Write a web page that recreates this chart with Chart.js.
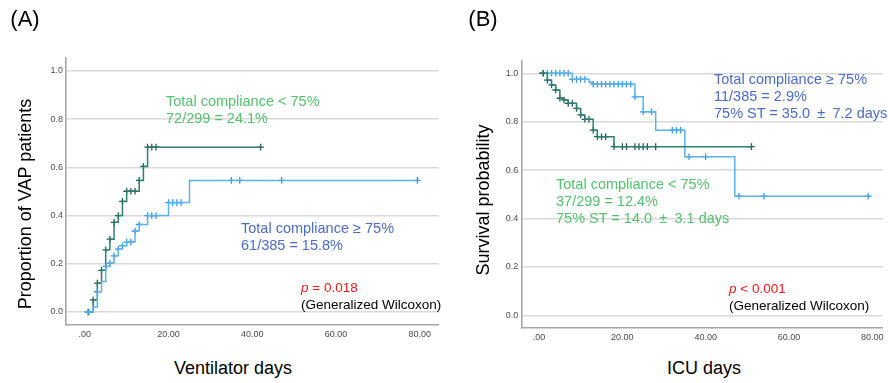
<!DOCTYPE html>
<html>
<head>
<meta charset="utf-8">
<script src="https://cdn.jsdelivr.net/npm/chart.js@4.4.0/dist/chart.umd.min.js"></script>
<style>
body { margin: 0; background: #fff; width: 888px; height: 383px; position: relative; overflow: hidden;
       font-family: "Liberation Sans", Arial, sans-serif; }
.panel { position: absolute; top: 0; }
.t { position: absolute; white-space: nowrap; color: #000; }
.big { font-size: 18px; transform: translate(-50%, -50%); }
.rot { font-size: 18px; transform: translate(-50%, -50%) rotate(-90deg); }
.lbl { font-size: 22px; transform: translate(-50%, -50%); }
.note { font-size: 14.5px; line-height: 17px; }
.green { color: #55c06e; }
.blue { color: #4a6cc6; }
.pv { font-size: 13.5px; line-height: 16.5px; }
.pv .red { color: #f01818; }
</style>
</head>
<body>
<div class="panel" style="left:0"><canvas id="kmA" width="444" height="346"></canvas></div>
<div class="panel" style="left:444px"><canvas id="kmB" width="444" height="346"></canvas></div>

<div class="t lbl" style="left:25px;top:19px">(A)</div>
<div class="t lbl" style="left:483px;top:19px">(B)</div>
<div class="t rot" style="left:25px;top:204px">Proportion of VAP patients</div>
<div class="t rot" style="left:483px;top:200px">Survival probability</div>
<div class="t big" style="left:233px;top:368px">Ventilator days</div>
<div class="t big" style="left:704px;top:368px">ICU days</div>

<div class="t note green" style="left:166px;top:93px">Total compliance &lt; 75%<br>72/299 = 24.1%</div>
<div class="t note blue" style="left:241px;top:220px">Total compliance ≥ 75%<br>61/385 = 15.8%</div>
<div class="t pv" style="left:301px;top:280px"><span class="red"><i>p</i> = 0.018</span><br>(Generalized Wilcoxon)</div>

<div class="t note blue" style="left:714px;top:71px">Total compliance ≥ 75%<br>11/385 = 2.9%<br>75% ST = 35.0&ensp;±&ensp;7.2 days</div>
<div class="t note green" style="left:556px;top:176px">Total compliance &lt; 75%<br>37/299 = 12.4%<br>75% ST = 14.0&ensp;±&ensp;3.1 days</div>
<div class="t pv" style="left:729px;top:281px"><span class="red"><i>p</i> &lt; 0.001</span><br>(Generalized Wilcoxon)</div>

<script>
// tick labels
const xTicks = [0, 20, 40, 60, 80];
const yTicks = [0, 0.2, 0.4, 0.6, 0.8, 1.0];

// (A) cumulative VAP, compliance < 75%
const aLowDays = [0, 2, 3, 4, 5, 6, 7, 8, 9, 10, 13, 14, 15, 42];
const aLowVals = [0, 0.05, 0.12, 0.173, 0.258, 0.302, 0.372, 0.40, 0.459, 0.501, 0.546, 0.604, 0.684, 0.684];
const aLowCens = [0.8, 2, 3, 4, 5, 6, 7, 8, 9, 10, 11, 12, 13, 14, 15, 16, 17, 42];

// (A) compliance >= 75%
const aHighDays = [0, 2, 3, 4, 5, 6, 7, 8, 9, 10, 12, 13, 15, 20, 25, 79.4];
const aHighVals = [0, 0.021, 0.084, 0.127, 0.189, 0.203, 0.233, 0.261, 0.275, 0.29, 0.336, 0.363, 0.40, 0.454, 0.546, 0.546];
const aHighCens = [1, 3, 5, 6, 7, 8, 9, 10, 11, 12, 13, 15, 16, 17, 20, 21, 22, 23, 35, 37, 47, 79.4];

// (B) survival, compliance < 75%
const bLowDays = [0, 2, 3, 4, 5, 6, 7, 9, 10, 11, 13, 14, 18, 51];
const bLowVals = [1, 0.972, 0.952, 0.931, 0.897, 0.89, 0.876, 0.855, 0.828, 0.81, 0.765, 0.738, 0.697, 0.697];
const bLowCens = [1, 2, 3, 4, 5, 6, 7, 8, 9, 10, 11, 12, 13, 14, 15, 16, 18, 20, 21, 23, 24, 25, 26, 28, 51];

// (B) compliance >= 75%
const bHighDays = [0, 8, 12, 13, 23, 25, 28, 35, 47, 79];
const bHighVals = [1, 0.975, 0.963, 0.955, 0.903, 0.841, 0.765, 0.655, 0.492, 0.492];
const bHighCens = [1, 2, 3, 4, 5, 6, 7, 8, 9, 10, 11, 13, 14, 15, 16, 17, 18, 19, 20, 21, 22, 23, 25, 27, 32, 33, 34, 36, 40, 48, 54, 79];

const tealLine = '#2f7f70', tealMark = '#1f5f54';
const blueLine = '#5ab2ee', blueMark = '#3a97e0';

function stepAt(days, vals, t) {
    let v = vals[0];
    for (let i = 0; i < days.length; i++) if (days[i] <= t) v = vals[i];
    return v;
}

function curve(days, vals, cens, line, mark) {
    return [{
        data: days.map((d, i) => ({x: d, y: vals[i]})),
        stepped: 'before',
        borderColor: line,
        borderWidth: 1.5,
        pointRadius: 0,
        fill: false
    }, {
        data: cens.map(d => ({x: d, y: stepAt(days, vals, d)})),
        showLine: false,
        pointStyle: 'cross',
        pointRadius: 3.3,
        borderColor: mark,
        borderWidth: 1.3
    }];
}

function kmChart(id, datasets, xr, yr, pad) {
    return new Chart(document.getElementById(id), {
        type: 'line',
        data: {datasets: datasets},
        options: {
            responsive: false,
            animation: false,
            layout: {padding: pad},
            plugins: {legend: {display: false}, tooltip: {enabled: false}},
            scales: {
                x: {
                    type: 'linear', min: xr[0], max: xr[1],
                    afterBuildTicks: s => { s.ticks = xTicks.map(v => ({value: v})); },
                    afterFit: s => { s.height = 18; },
                    grid: {display: false, drawTicks: false},
                    border: {display: true, color: '#a6a6a6', width: 1.6},
                    ticks: {
                        padding: 4, color: '#4a4a4a',
                        font: {family: 'Liberation Sans', size: 9},
                        maxRotation: 0,
                        callback: v => v === 0 ? '.00' : v.toFixed(2)
                    }
                },
                y: {
                    min: yr[0], max: yr[1],
                    afterBuildTicks: s => { s.ticks = yTicks.map(v => ({value: v})); },
                    afterFit: s => { s.width = 30; },
                    grid: {color: '#d9d9d9', lineWidth: 1.5, drawTicks: false},
                    border: {display: true, color: '#a6a6a6', width: 1.6},
                    ticks: {
                        padding: 3, color: '#4a4a4a',
                        font: {family: 'Liberation Sans', size: 9},
                        callback: v => v.toFixed(1)
                    }
                }
            }
        }
    });
}

kmChart('kmA',
    curve(aHighDays, aHighVals, aHighCens, blueLine, blueMark)
        .concat(curve(aLowDays, aLowVals, aLowCens, tealLine, tealMark)),
    [-4.48, 84.5], [-0.054, 1.054],
    {left: 36, right: 1, top: 58, bottom: 3});

kmChart('kmB',
    curve(bLowDays, bLowVals, bLowCens, tealLine, tealMark)
        .concat(curve(bHighDays, bHighVals, bHighCens, blueLine, blueMark)),
    [-4.26, 82.5], [-0.0525, 1.053],
    {left: 47.3, right: 0, top: 60.5, bottom: 0});
</script>
</body>
</html>
